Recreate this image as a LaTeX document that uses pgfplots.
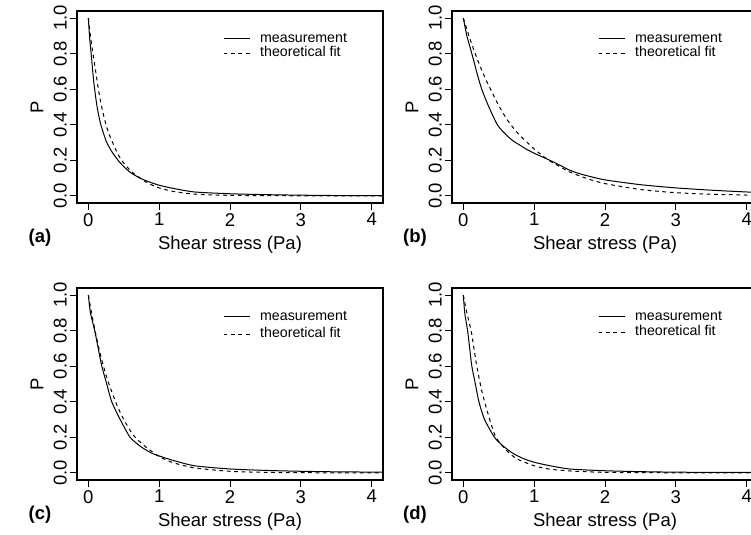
\documentclass[border=0pt]{standalone}
\usepackage{pgfplots}
\pgfplotsset{compat=1.18}
\usepackage{fontspec}
\setmainfont{Liberation Sans}
\newcommand\tickfont{\fontsize{18.5bp}{22bp}\selectfont}
\newcommand\legfont{\fontsize{14.2bp}{16bp}\selectfont}
\newcommand\lt[1]{\raisebox{-4bp}{\smash{#1}}}
\pgfplotsset{
  panel/.style={
    scale only axis, width=306bp, height=192bp,
    anchor=south west,
    xmin=-0.16, xmax=4.16, ymin=-0.04, ymax=1.04,
    xtick={0,1,2,3,4}, ytick={0,0.2,0.4,0.6,0.8,1.0},
    tick align=outside, tick pos=left,
    major tick length=7bp,
    every tick/.style={black, line width=0.9bp},
    axis line style={line width=1.1bp},
    /pgf/number format/assume math mode=true,
    yticklabel style={rotate=90, anchor=south, inner sep=0pt, font=\tickfont,
      /pgf/number format/fixed, /pgf/number format/fixed zerofill, /pgf/number format/precision=1},
    xticklabel style={anchor=north, inner sep=0pt, font=\tickfont},
    yticklabel shift=3bp,
    xticklabel shift=3bp,
    clip mode=individual,
    legend style={draw=none, fill=none, anchor=north west, font=\legfont, inner sep=0pt,
      nodes={inner sep=0bp}, cells={anchor=west}},
    legend image code/.code={\draw[##1] (0bp,0bp) -- (26bp,0bp); \path (36bp,0bp);},
  },
  meas/.style={black, line width=1bp, smooth, tension=0.4},
  fit/.style={black, line width=1bp, dash pattern=on 3.7bp off 3.7bp, smooth, tension=0.4},
}
\newcommand\decor[1]{%
  \node[font=\tickfont\bfseries, xshift=-37bp, yshift=-35bp] at (rel axis cs:0,0) {(#1)};
  \node[font=\tickfont, yshift=-42bp] at (rel axis cs:0.5,0) {Shear stress (Pa)};
  \node[font=\tickfont, rotate=90] at ([xshift=-40bp]rel axis cs:0,0.5) {P};
}
\begin{document}
\begin{tikzpicture}
\useasboundingbox (0,0) rectangle (751bp,535bp);
\clip (0,0) rectangle (751bp,535bp);
% (a)
\begin{axis}[panel, at={(77bp,332bp)},
  legend style={at={(rel axis cs:0.477,0.86)}, row sep=13bp}]
\addplot[meas] coordinates {(0,1.0) (0.02,0.88) (0.04,0.80) (0.06,0.71) (0.08,0.63) (0.12,0.51) (0.17,0.41) (0.25,0.31) (0.33,0.25) (0.42,0.20) (0.5,0.165) (0.6,0.13) (0.73,0.10) (0.85,0.08) (1.0,0.06) (1.2,0.042) (1.5,0.022) (2.0,0.012) (2.5,0.007) (3.0,0.004) (3.5,0.002) (4.2,0.001)};
\addplot[fit] coordinates {(0,1.0) (0.04,0.87) (0.07,0.79) (0.1,0.71) (0.15,0.58) (0.2,0.48) (0.25,0.40) (0.3,0.34) (0.4,0.25) (0.47,0.20) (0.6,0.14) (0.73,0.10) (0.85,0.07) (1.0,0.045) (1.2,0.025) (1.5,0.01) (2.0,0.003) (3.0,0.0005) (4.2,0)};
\legend{\lt{measurement}, \lt{theoretical fit}}
\decor{a}
\end{axis}
% (b)
\begin{axis}[panel, at={(452bp,332bp)},
  legend style={at={(rel axis cs:0.477,0.86)}, row sep=13bp}]
\addplot[meas] coordinates {(0,1.0) (0.05,0.90) (0.12,0.80) (0.2,0.68) (0.26,0.60) (0.35,0.51) (0.48,0.40) (0.6,0.345) (0.7,0.31) (0.8,0.285) (0.9,0.26) (1.0,0.24) (1.1,0.222) (1.2,0.204) (1.3,0.185) (1.4,0.165) (1.5,0.145) (1.6,0.13) (1.75,0.113) (2.0,0.09) (2.5,0.063) (3.0,0.045) (3.5,0.032) (4.0,0.022) (4.2,0.019)};
\addplot[fit] coordinates {(0,1.0) (0.1,0.875) (0.2,0.766) (0.3,0.670) (0.4,0.587) (0.5,0.508) (0.6,0.44) (0.7,0.385) (0.8,0.34) (1.0,0.264) (1.2,0.202) (1.5,0.135) (1.75,0.097) (2.0,0.069) (2.5,0.036) (3.0,0.018) (3.5,0.0094) (4.0,0.0048) (4.2,0.0037)};
\legend{\lt{measurement}, \lt{theoretical fit}}
\decor{b}
\end{axis}
% (c)
\begin{axis}[panel, at={(77bp,55bp)},
  legend style={at={(rel axis cs:0.477,0.854)}, row sep=16bp}]
\addplot[meas] coordinates {(0,1.0) (0.03,0.90) (0.09,0.80) (0.14,0.70) (0.19,0.60) (0.26,0.50) (0.33,0.40) (0.45,0.30) (0.59,0.20) (0.75,0.145) (0.9,0.11) (1.0,0.095) (1.2,0.07) (1.5,0.04) (2.0,0.022) (2.5,0.014) (3.0,0.009) (3.5,0.006) (4.2,0.004)};
\addplot[fit] coordinates {(0,1.0) (0.05,0.89) (0.1,0.79) (0.15,0.70) (0.2,0.62) (0.25,0.55) (0.3,0.49) (0.4,0.385) (0.5,0.30) (0.64,0.21) (0.8,0.15) (1.0,0.092) (1.2,0.057) (1.5,0.028) (2.0,0.009) (2.5,0.003) (3.0,0.001) (4.2,0)};
\legend{\lt{measurement}, \lt{theoretical fit}}
\decor{c}
\end{axis}
% (d)
\begin{axis}[panel, at={(452bp,55bp)},
  legend style={at={(rel axis cs:0.477,0.854)}, row sep=14bp}]
\addplot[meas] coordinates {(0,1.0) (0.02,0.90) (0.06,0.80) (0.09,0.70) (0.12,0.60) (0.17,0.50) (0.22,0.40) (0.3,0.30) (0.44,0.20) (0.55,0.155) (0.7,0.11) (0.85,0.08) (1.0,0.06) (1.2,0.042) (1.5,0.022) (2.0,0.012) (2.5,0.007) (3.0,0.004) (3.5,0.003) (4.2,0.002)};
\addplot[fit] coordinates {(0,1.0) (0.05,0.90) (0.11,0.80) (0.15,0.70) (0.19,0.60) (0.25,0.48) (0.30,0.40) (0.38,0.29) (0.46,0.20) (0.6,0.13) (0.75,0.08) (1.0,0.04) (1.2,0.022) (1.5,0.011) (2.0,0.003) (3.0,0.0005) (4.2,0)};
\legend{\lt{measurement}, \lt{theoretical fit}}
\decor{d}
\end{axis}
\end{tikzpicture}
\end{document}
